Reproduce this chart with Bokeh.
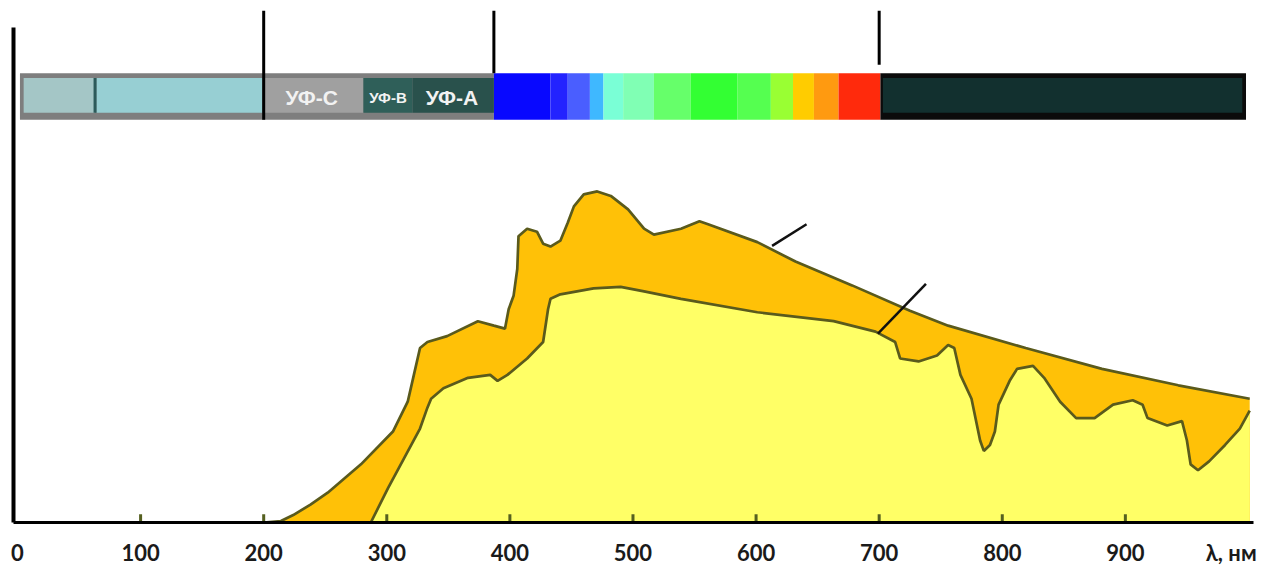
from bokeh.plotting import figure
from bokeh.models import FixedTicker, Range1d, ColumnDataSource
from bokeh.core.properties import value
from bokeh.embed import file_html
from bokeh.resources import INLINE

# --- data (wavelength in nm, spectral irradiance in arbitrary units) ---
top_nm = [200, 214, 224, 238, 252, 279, 305, 317, 322, 327, 333, 349, 374, 387, 396,
          399, 403, 406, 407, 414, 422, 427, 433, 441, 447, 452, 460, 471, 482, 496,
          509, 517, 539, 554, 561, 601, 632, 678, 725, 756, 819, 881, 943, 1001]
top_val = [0, 0.01, 0.05, 0.12, 0.20, 0.39, 0.61, 0.81, 0.99, 1.17, 1.21, 1.25, 1.35, 1.32, 1.30,
           1.43, 1.52, 1.70, 1.92, 1.97, 1.95, 1.87, 1.85, 1.89, 2.01, 2.12, 2.20, 2.22, 2.19, 2.10,
           1.97, 1.93, 1.97, 2.02, 2.00, 1.88, 1.75, 1.59, 1.42, 1.32, 1.17, 1.03, 0.92, 0.83]

sea_nm = [287, 301, 314, 327, 333, 336, 346, 366, 384, 390, 398, 414, 427, 431, 433,
          441, 468, 490, 509, 539, 601, 663, 697, 713, 717, 732, 747, 756, 761, 766,
          775, 782, 785, 790, 794, 797, 806, 812, 825, 834, 847, 860, 875, 890, 906,
          914, 918, 934, 946, 950, 953, 959, 968, 981, 993, 1001]
sea_val = [0, 0.23, 0.43, 0.63, 0.77, 0.83, 0.90, 0.97, 0.99, 0.95, 0.99, 1.10, 1.21, 1.43, 1.50,
           1.53, 1.57, 1.58, 1.55, 1.50, 1.41, 1.35, 1.28, 1.21, 1.10, 1.08, 1.12, 1.19, 1.17, 0.99,
           0.83, 0.55, 0.48, 0.52, 0.61, 0.79, 0.95, 1.03, 1.05, 0.97, 0.81, 0.70, 0.70, 0.79, 0.82,
           0.79, 0.70, 0.65, 0.68, 0.55, 0.39, 0.35, 0.41, 0.52, 0.63, 0.75]

x_ticks = [0, 100, 200, 300, 400, 500, 600, 700, 800, 900]
x_title_pos = 986
x_axis_title = "λ, нм"

# spectrum band (outer segments)
band_left = [2, 387, 433, 447, 465, 476, 492, 517, 547, 585, 612, 630, 647, 667, 701]
band_right = [387, 433, 447, 465, 476, 492, 517, 547, 585, 612, 630, 647, 667, 701, 998]
band_colors = ["#7e7e7e", "#0808ff", "#2323ff", "#4a5eff", "#3fb8ff", "#7affd6", "#80ffb4",
               "#66ff6a", "#33ff33", "#55ff50", "#99ff33", "#ffcc00", "#ff9a10", "#ff2a0c", "#0b0b0b"]
# inner UV / IR segments
inner_left = [5, 64, 200, 281, 321, 703]
inner_right = [63, 199, 281, 321, 387, 995]
inner_colors = ["#a4c6c6", "#97cfd3", "#a0a0a0", "#2f5f59", "#29514c", "#12302f"]

band_labels = ["УФ-С", "УФ-В", "УФ-А"]
band_label_x = [239, 301, 353]
band_label_size = ["21px", "15px", "21px"]

boundary_nm = [200, 387, 700]
boundary_bottom = [2.70, 3.013, 3.07]

leader_x0 = [613, 699]
leader_y0 = [1.855, 1.267]
leader_x1 = [641, 738]
leader_y1 = [2.00, 1.60]

ORANGE = "#ffc107"
YELLOW = "#ffff66"
OUTLINE = "#5a5a1c"

p = figure(width=1272, height=568,
           x_range=Range1d(-3.25, 1011.4), y_range=Range1d(0, 3.4333),
           output_backend="svg", toolbar_location=None,
           min_border_left=13, min_border_right=10, min_border_top=10, min_border_bottom=43)
p.outline_line_color = None
p.xgrid.visible = False
p.ygrid.visible = False
p.background_fill_color = "white"

# filled spectra
p.varea(x=top_nm, y1=0, y2=top_val, fill_color=ORANGE)
p.varea(x=sea_nm, y1=0, y2=sea_val, fill_color=YELLOW)
p.line(top_nm, top_val, line_color=OUTLINE, line_width=2.7)
p.line(sea_nm, sea_val, line_color=OUTLINE, line_width=2.7)

# leader lines
p.segment(x0=leader_x0, y0=leader_y0, x1=leader_x1, y1=leader_y1, line_color="#111111", line_width=2.5)

# spectrum band
p.quad(left=band_left, right=band_right, bottom=2.70, top=3.013, fill_color=band_colors, line_color=None)
p.quad(left=inner_left, right=inner_right, bottom=2.747, top=2.98, fill_color=inner_colors, line_color=None)
p.segment(x0=[63], y0=[2.747], x1=[63], y1=[2.98], line_color="#2c5a5a", line_width=3)

src = ColumnDataSource(dict(x=band_label_x, y=[2.853] * 3, t=band_labels, s=band_label_size))
p.text(x="x", y="y", text="t", source=src, text_font=value("Liberation Sans"),
       text_font_style="bold", text_font_size="s", text_color="#f2f2f2",
       text_align="center", text_baseline="middle")

# boundary lines above band
p.segment(x0=boundary_nm, y0=3.4333, x1=boundary_nm, y1=boundary_bottom, line_color="black", line_width=3)

# small olive tick marks at the numbered wavelengths (inside the plot)
p.segment(x0=x_ticks[1:], y0=0, x1=x_ticks[1:], y1=0.055, line_color="#556020", line_width=3)

# axes
p.xaxis.ticker = FixedTicker(ticks=x_ticks + [x_title_pos])
p.xaxis.major_label_overrides = {x_title_pos: x_axis_title}
p.xaxis.axis_line_width = 3
p.xaxis.axis_line_color = "black"
p.xaxis.bounds = (-3.25, 1004)
p.xaxis.major_tick_in = 0
p.xaxis.major_tick_out = 0
p.xaxis.major_tick_line_color = None
p.xaxis.minor_tick_line_color = None
p.xaxis.major_label_standoff = 16
p.xaxis.major_label_text_font = "Lato"
p.xaxis.major_label_text_font_style = "bold"
p.xaxis.major_label_text_font_size = "22px"
p.xaxis.major_label_text_color = "#1a1a1a"

p.yaxis.ticker = FixedTicker(ticks=[])
p.yaxis.axis_line_width = 4
p.yaxis.axis_line_color = "black"
p.yaxis.bounds = (0, 3.32)
p.yaxis.major_tick_line_color = None
p.yaxis.minor_tick_line_color = None
p.yaxis.major_label_standoff = 0

open("out.html", "w").write(file_html(p, INLINE))
